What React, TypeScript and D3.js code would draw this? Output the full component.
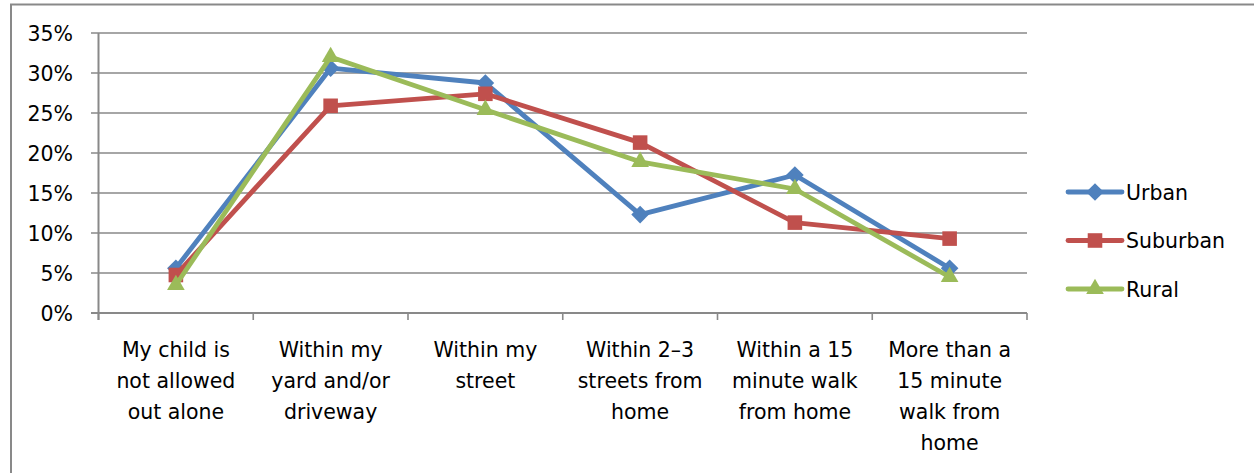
import { useEffect, useRef } from 'react'
import * as d3 from 'd3'

const categories = [
  ['My child is', 'not allowed', 'out alone'],
  ['Within my', 'yard and/or', 'driveway'],
  ['Within my', 'street'],
  ['Within 2–3', 'streets from', 'home'],
  ['Within a 15', 'minute walk', 'from home'],
  ['More than a', '15 minute', 'walk from', 'home'],
]
const urban = [0.056, 0.306, 0.2875, 0.123, 0.1725, 0.056]
const suburban = [0.0475, 0.259, 0.274, 0.213, 0.113, 0.093]
const rural = [0.035, 0.32, 0.254, 0.189, 0.155, 0.045]
const yTicks = [0, 0.05, 0.1, 0.15, 0.2, 0.25, 0.3, 0.35]

const series = [
  { name: 'Urban', values: urban, color: '#4F81BD', marker: 'diamond' },
  { name: 'Suburban', values: suburban, color: '#C0504D', marker: 'square' },
  { name: 'Rural', values: rural, color: '#9BBB59', marker: 'triangle' },
]

const W = 1254
const H = 473
const FONT = '"DejaVu Sans", "Open Sans", sans-serif'
const FS = '20.5px'
const GRID = '#898989'

function markerPath(type: string, size: number) {
  if (type === 'diamond') return d3.symbol(d3.symbolDiamond2, size * size * 0.55)()
  if (type === 'square') return d3.symbol(d3.symbolSquare2, size * size * 0.75)()
  return d3.symbol(d3.symbolTriangle2, size * size * 0.62)()
}

export default function App() {
  const svgRef = useRef<SVGSVGElement>(null)

  useEffect(() => {
    if (!svgRef.current) return
    const svg = d3.select(svgRef.current)
    svg.selectAll('*').remove()

    const left = 98.5
    const right = 1027
    const top = 33
    const bottom = 313

    const idx = categories.map((_, i) => i)
    const x = d3.scalePoint<number>().domain(idx).range([left, right]).padding(0.5)
    const y = d3.scaleLinear().domain([0, 0.35]).range([bottom, top])
    const step = x.step()

    // outer frame
    svg.append('path')
      .attr('d', `M11,${H + 5}V4.5H${W + 5}`)
      .attr('fill', 'none')
      .attr('stroke', GRID)
      .attr('stroke-width', 2)

    // gridlines + y labels
    const g = svg.append('g')
    yTicks.forEach(t => {
      g.append('line')
        .attr('x1', 91).attr('x2', right)
        .attr('y1', y(t)).attr('y2', y(t))
        .attr('stroke', GRID).attr('stroke-width', t === 0 ? 2 : 1.6)
      g.append('text')
        .attr('x', 73).attr('y', y(t) + 7.5)
        .attr('text-anchor', 'end')
        .style('font-family', FONT).style('font-size', FS)
        .attr('fill', '#000')
        .text(d3.format('.0%')(t))
    })
    // y axis line
    g.append('line')
      .attr('x1', left).attr('x2', left)
      .attr('y1', top).attr('y2', bottom + 7)
      .attr('stroke', GRID).attr('stroke-width', 2)

    // category ticks
    d3.range(categories.length + 1).forEach(i => {
      const xx = left + i * step
      g.append('line')
        .attr('x1', xx).attr('x2', xx)
        .attr('y1', bottom).attr('y2', bottom + 7)
        .attr('stroke', GRID).attr('stroke-width', 1.6)
    })

    // category labels
    categories.forEach((lines, i) => {
      const t = g.append('text')
        .attr('text-anchor', 'middle')
        .style('font-family', FONT).style('font-size', FS)
        .attr('fill', '#000')
      lines.forEach((ln, j) => {
        t.append('tspan')
          .attr('x', x(i)!)
          .attr('y', 356.5 + j * 31.3)
          .text(ln)
      })
    })

    // series lines
    const line = d3.line<number>()
      .x((_, i) => x(i)!)
      .y(d => y(d))

    series.forEach(s => {
      svg.append('path')
        .datum(s.values)
        .attr('d', line)
        .attr('fill', 'none')
        .attr('stroke', s.color)
        .attr('stroke-width', 4.8)
        .attr('stroke-linejoin', 'round')
      svg.selectAll(null)
        .data(s.values)
        .enter().append('path')
        .attr('d', markerPath(s.marker, 19))
        .attr('transform', (d, i) => `translate(${x(i)},${y(d)})`)
        .attr('fill', s.color)
    })

    // legend
    const legend = svg.append('g')
    series.forEach((s, i) => {
      const ly = 192 + i * 48.5
      legend.append('line')
        .attr('x1', 1068).attr('x2', 1122)
        .attr('y1', ly).attr('y2', ly)
        .attr('stroke', s.color).attr('stroke-width', 4.8)
        .attr('stroke-linecap', 'round')
      legend.append('path')
        .attr('d', markerPath(s.marker, 19))
        .attr('transform', `translate(1095,${ly})`)
        .attr('fill', s.color)
      legend.append('text')
        .attr('x', 1126).attr('y', ly + 7.5)
        .style('font-family', FONT).style('font-size', FS)
        .attr('fill', '#000')
        .text(s.name)
    })
  }, [])

  return (
    <svg
      ref={svgRef}
      width={W}
      height={H}
      style={{ position: 'absolute', left: 0, top: 0, background: '#fff' }}
    />
  )
}
